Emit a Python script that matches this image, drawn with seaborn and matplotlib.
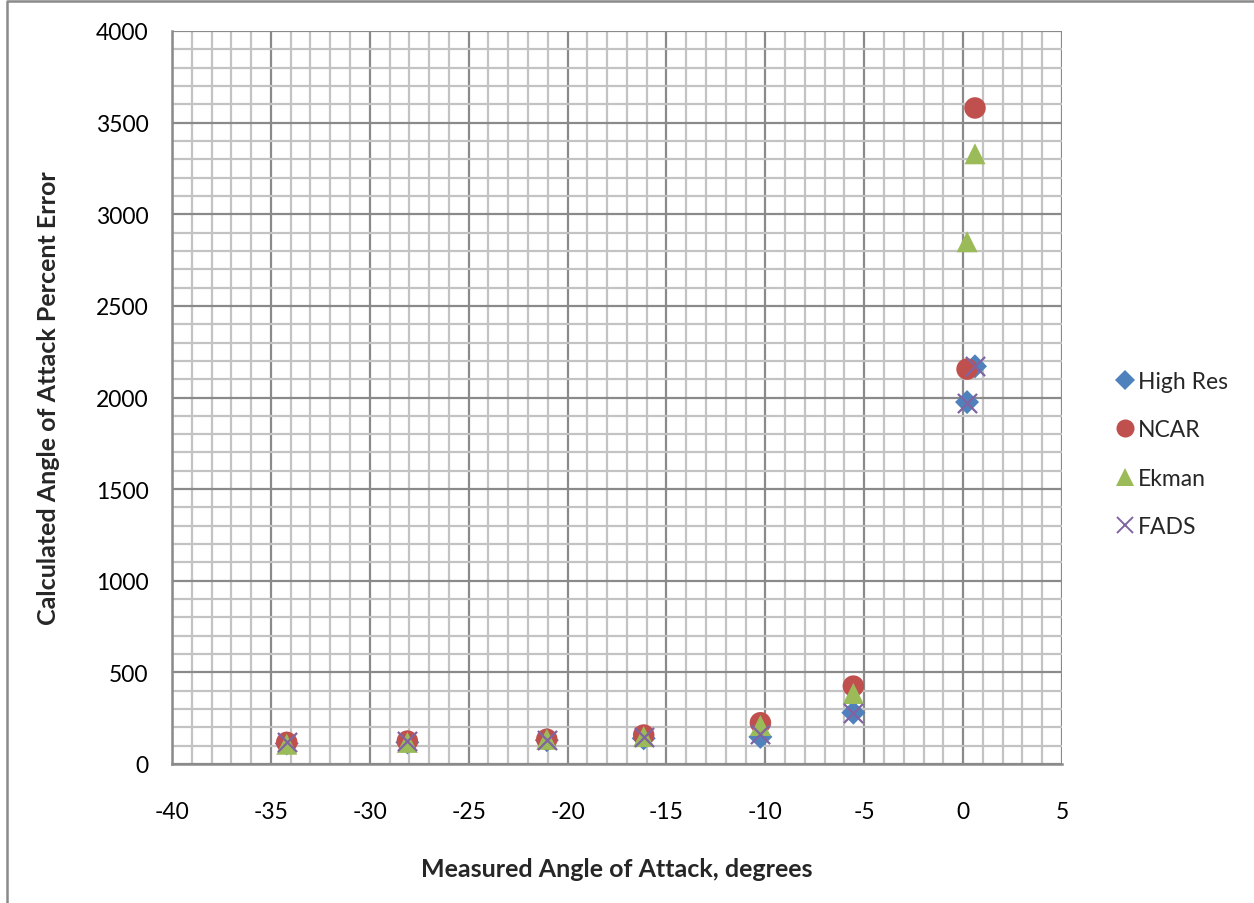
import numpy as np
import pandas as pd
import matplotlib
matplotlib.use("Agg")
import matplotlib.pyplot as plt
from matplotlib.lines import Line2D
from matplotlib.ticker import MultipleLocator
import seaborn as sns

# ---- data ----
measured_aoa = [-34.2, -28.1, -21.05, -16.15, -10.25, -5.55, 0.2, 0.6]
high_res = [112, 118, 130, 140, 148, 280, 1975, 2170]
ncar = [118, 125, 135, 158, 225, 425, 2155, 3580]
ekman = [108, 118, 135, 150, 210, 385, 2850, 3330]
fads = [120, 125, 132, 150, 165, 280, 1970, 2170]
series_names = ["High Res", "NCAR", "Ekman", "FADS"]
x_ticks = [-40, -35, -30, -25, -20, -15, -10, -5, 0, 5]
y_ticks = [0, 500, 1000, 1500, 2000, 2500, 3000, 3500, 4000]

sns.set_theme(style="white")
plt.rcParams["font.family"] = ["Lato", "DejaVu Sans"]
plt.rcParams["axes.unicode_minus"] = False

df = pd.DataFrame({
    "x": measured_aoa * 4,
    "y": high_res + ncar + ekman + fads,
    "series": sum([[n] * len(measured_aoa) for n in series_names], []),
})

colors = {"High Res": "#4F81BD", "NCAR": "#C0504D", "Ekman": "#9BBB59", "FADS": "#8064A2"}
markers = {"High Res": "D", "NCAR": "o", "Ekman": "^", "FADS": "x"}
sizes = {"High Res": 150, "NCAR": 240, "Ekman": 230, "FADS": 190}

FS = 16.5

fig = plt.figure(figsize=(12.54, 9.04), dpi=100)
ax = fig.add_axes([172/1254, 1-765/904, 890/1254, 733/904])

for name in series_names:
    sub = df[df["series"] == name]
    kw = dict(linewidth=0) if markers[name] != "x" else dict(linewidth=1.6)
    sns.scatterplot(data=sub, x="x", y="y", ax=ax, marker=markers[name],
                    color=colors[name], s=sizes[name], label=name,
                    edgecolor=colors[name] if markers[name] == "x" else "none",
                    zorder=3, **kw)

ax.set_xlim(-40, 5)
ax.set_ylim(0, 4000)
ax.set_xticks(x_ticks)
ax.set_yticks(y_ticks)
ax.xaxis.set_minor_locator(MultipleLocator(1))
ax.yaxis.set_minor_locator(MultipleLocator(100))
ax.grid(which="minor", color="#C3C3C3", linewidth=1.6, zorder=0)
ax.grid(which="major", color="#8A8A8A", linewidth=1.6, zorder=1)
ax.set_axisbelow(True)
for s in ["top", "right"]:
    ax.spines[s].set_visible(False)
for s in ["left", "bottom"]:
    ax.spines[s].set_color("#8A8A8A")
    ax.spines[s].set_linewidth(1.8)
ax.tick_params(axis="x", which="both", length=0, pad=27, labelsize=FS, labelcolor="black")
ax.tick_params(axis="y", which="both", length=0, pad=17, labelsize=FS, labelcolor="black")

ax.set_xlabel("Measured Angle of Attack, degrees", fontsize=18, fontweight="bold", labelpad=0)
ax.set_ylabel("Calculated Angle of Attack Percent Error", fontsize=18, fontweight="bold", labelpad=0)
ax.xaxis.set_label_coords((617-172)/890, -(858-765)/733)
ax.yaxis.set_label_coords(-(172-60)/890, (765-398)/733)

handles = []
for n in series_names:
    if n == "FADS":
        h = Line2D([], [], linestyle="none", marker="x", color=colors[n], markersize=11, markeredgewidth=1.4)
    else:
        h = Line2D([], [], linestyle="none", marker=markers[n], color=colors[n],
                   markersize={"High Res": 10, "NCAR": 13, "Ekman": 12.5}[n], markeredgewidth=0)
    handles.append(h)
ax.legend(handles=handles, labels=series_names, loc="center left",
          bbox_to_anchor=(1104/1254, 1-455/904), bbox_transform=fig.transFigure,
          frameon=False, fontsize=FS, handlelength=0.8, handletextpad=0.2,
          labelspacing=1.2, borderpad=0)

# outer chart border (partially cropped)
fig.add_artist(Line2D([7/1254, 7/1254, 1.0], [0.0, 1-2/904, 1-2/904],
                      transform=fig.transFigure, color="#8A8A8A", linewidth=1.8))

fig.savefig("out.png", dpi=100, facecolor="white")
